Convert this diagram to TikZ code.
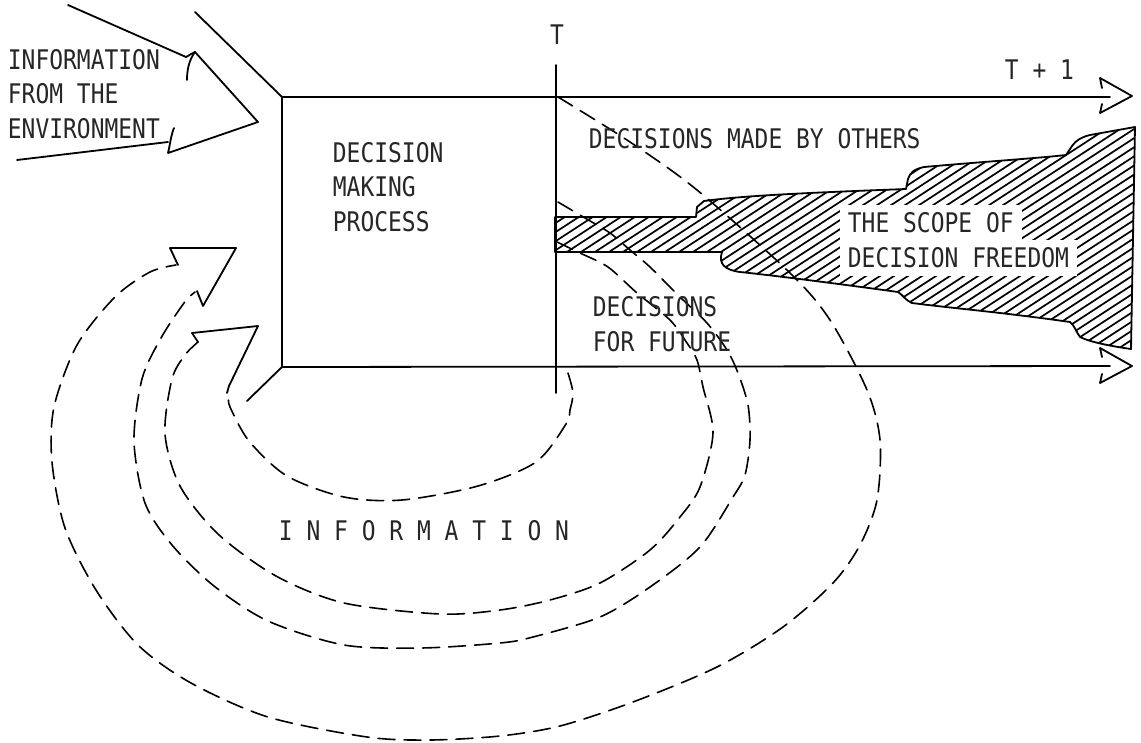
\documentclass[tikz,border=0pt]{standalone}
\usepackage{fontspec}
\newfontfamily\plotfont[FakeStretch=0.85]{DejaVu Sans Mono}

\newcommand{\bandoutline}{(555,217) -- (696,217) -- (697,207) -- (704,201)
    .. controls (740,196) and (800,193) .. (906,189) -- (908,179)
    .. controls (910,172) and (915,169) .. (924,167)
    .. controls (980,162) and (1040,158) .. (1066,155) -- (1072,146)
    .. controls (1076,140) and (1082,137) .. (1090,135) -- (1135,127)
    -- (1131,349) .. controls (1110,346) and (1090,342) .. (1080,337)
    .. controls (1076,332) and (1075,326) .. (1070,322)
    .. controls (1000,312) and (950,308) .. (912,303)
    .. controls (905,300) and (903,295) .. (898,292)
    .. controls (840,284) and (770,275) .. (740,272)
    .. controls (725,270) and (718,264) .. (722,252) -- (555,252) -- cycle}

\begin{document}
\begin{tikzpicture}[x=1pt, y=-1pt,
    line width=1.8pt, line join=round, line cap=round,
    lbl/.style={font=\plotfont\fontsize{27}{34.5}\selectfont, text=black!85,
        inner sep=0pt, align=left, anchor=west},
    cutout/.style={lbl, fill=white, inner xsep=8pt, minimum height=36pt},
    feedback/.style={dash pattern=on 17pt off 9pt, line width=1.6pt},
    hatch/.style={line width=1.7pt}]

    \useasboundingbox (0,0) rectangle (1141,742);

    % the scope of decision freedom
    \begin{scope}
        \clip \bandoutline;
        \foreach \x in {300,314,...,1110}
            \draw[hatch] (\x,380) -- ++(400,-260);
    \end{scope}
    \draw \bandoutline;

    % box, time axes and perspective edges
    \coordinate (boxNW) at (282,97);
    \coordinate (boxSW) at (282,367);
    \coordinate (topEnd) at (1110,97);
    \coordinate (botEnd) at (1110,366);
    \draw (topEnd) -- (boxNW) -- (boxSW) -- (botEnd);
    \draw (boxNW) -- (195,12);
    \draw (boxSW) -- (247,401);
    \draw (556,65) -- (556,393);
    \draw (1102,88) -- (1100,78) -- (1132,96) -- (1100,113) -- (1102,104);
    \draw (1102,357) -- (1100,348) -- (1132,366) -- (1100,383) -- (1102,374);

    % information from the environment
    \draw (68,5) -- (186,57) .. controls (190,55) and (192,53) .. (195,52);
    \draw (187,80) .. controls (187,70) and (189,60) .. (195,52) -- (258,122)
        -- (168,153) .. controls (170,145) and (171,135) .. (174,128);
    \draw (17,160) -- (168,142);

    % feedback information
    \draw (178,265) -- (170,248) -- (236,248) -- (203,306) -- (197,291);
    \draw (198,342) -- (192,333) -- (258,326) -- (229,386) -- (227,393);
    \draw[feedback] plot[smooth] coordinates {(558,97) (630,142) (697,190)
        (790,273) (830,320) (867,390) (880,440) (877,500) (860,545)
        (833,583) (783,627) (717,667) (633,702) (560,726) (500,736) (430,740)
        (367,737) (268,717) (191,683) (138,645) (96,590) (65,528) (52,462)
        (54,407) (77,345) (115,297) (150,272) (176,265)};
    \draw[feedback] plot[smooth] coordinates {(558,202) (585,218) (610,233)
        (630,250) (650,267) (680,297) (707,323) (727,350) (738,373) (748,405)
        (750,440) (745,475) (733,497) (700,547) (650,587) (600,617) (533,637)
        (500,643) (421,648) (344,645) (268,621) (214,586) (172,545) (145,503)
        (134,441) (142,379) (161,338) (184,303) (195,292)};
    \draw[feedback] plot[smooth] coordinates {(557,242) (580,253) (608,267)
        (637,293) (670,320) (687,343) (697,360) (703,387) (713,433) (700,487)
        (680,517) (650,550) (600,583) (550,600) (500,610) (440,614) (344,603)
        (276,576) (218,534) (180,486) (165,434) (172,379) (185,355) (198,342)};
    \draw[feedback] plot[smooth] coordinates {(568,373) (573,393) (570,410)
        (566,424) (536,462) (478,486) (402,500) (344,497) (287,476) (249,441)
        (230,407) (229,398)};

    % labels
    \node[lbl] (env) at (7,94) {INFORMATION\\FROM THE\\ENVIRONMENT};
    \node[lbl] (dmp) at (332,187) {DECISION\\MAKING\\PROCESS};
    \node[lbl] (others) at (588,139) {DECISIONS MADE BY OTHERS};
    \node[lbl] (future) at (592,324) {DECISIONS\\FOR FUTURE};
    \node[lbl] (info) at (278,531) {I N F O R M A T I O N};
    \node[lbl, anchor=center] (tnow) at (557,35) {T};
    \node[lbl] (tnext) at (1004,70) {T + 1};
    \node[cutout] (scope1) at (839,223) {THE SCOPE OF};
    \node[cutout] (scope2) at (839,258) {DECISION FREEDOM};
\end{tikzpicture}
\end{document}
